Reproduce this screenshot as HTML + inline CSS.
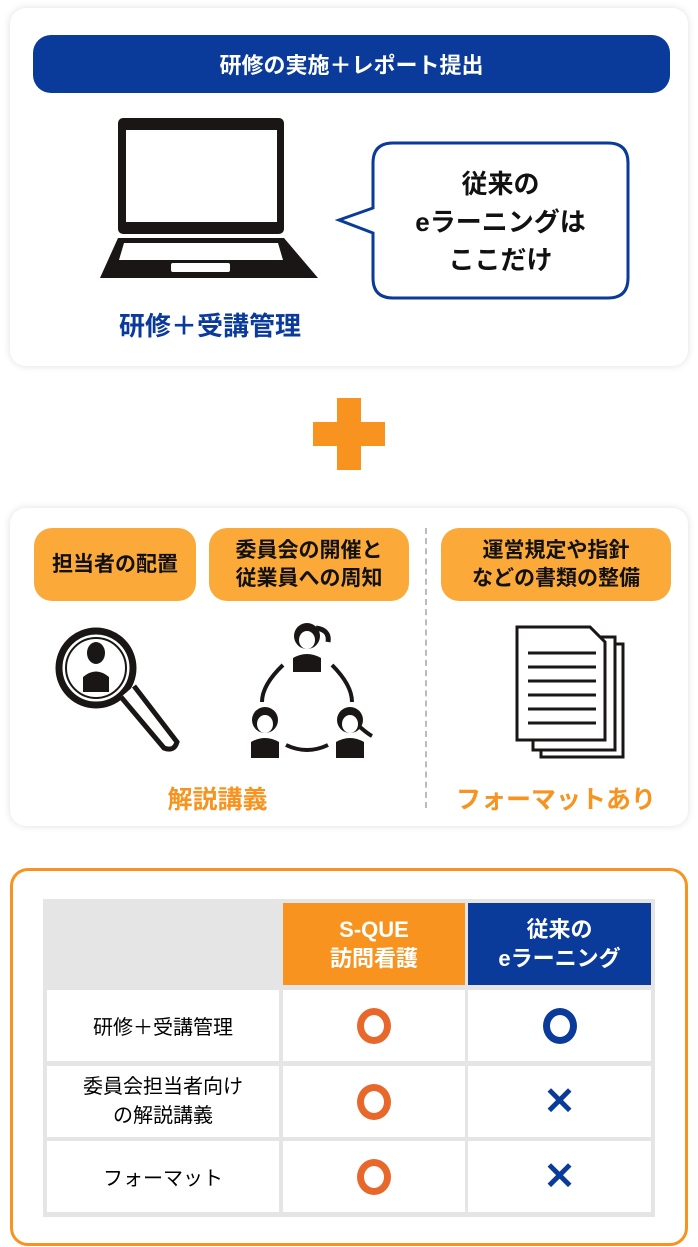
<!DOCTYPE html>
<html><head><meta charset="utf-8"><style>
*{margin:0;padding:0;box-sizing:border-box}
body{width:698px;height:1247px;background:#fff;position:relative;font-family:"Liberation Sans","Noto Sans CJK JP",sans-serif;overflow:hidden}
.a{position:absolute}
.card{background:#fff;border-radius:16px;box-shadow:0 0 8px rgba(0,0,0,.13)}
.pill{background:#fbaa3a;border-radius:18px;display:flex;align-items:center;justify-content:center;text-align:center;font-weight:bold;font-size:21px;line-height:28px;color:#111}
.c{display:flex;align-items:center;justify-content:center;text-align:center;background:#fff}
.o{width:34px;height:36px;border:7px solid #e8672a;border-radius:50%}
.ob{border-color:#0a3a9a}
.x{color:#0a3a9a;font-size:38px;font-weight:bold}
</style></head><body>
<div class="a card" style="left:10px;top:8px;width:678px;height:358px"></div>
<div class="a c" style="left:33px;top:35px;width:637px;height:58px;background:#0a3a9a;border-radius:18px;color:#fff;font-weight:bold;font-size:22px">研修の実施＋レポート提出</div>
<svg class="a" style="left:0;top:0" width="698" height="1247">
<rect x="118" y="118" width="166" height="116" rx="5" fill="#1a1616"/>
<rect x="126" y="130" width="151" height="92" fill="#fff"/>
<path d="M118 238 H284 L318 278 H100 Z" fill="#1a1616"/>
<path d="M124 243 H278 L283 260 H119 Z" fill="#fff"/>
<rect x="171" y="263" width="59" height="9" rx="2" fill="#fff"/>
<path d="M393 143 H608 Q628 143 628 163 V278 Q628 298 608 298 H393 Q373 298 373 278 V233 L339 220 L373 208 V163 Q373 143 393 143 Z" fill="#fff" stroke="#0a3a9a" stroke-width="3"/>
<rect x="313" y="422" width="72" height="24" fill="#f7931e"/>
<rect x="337" y="398" width="24" height="72" fill="#f7931e"/>
</svg>
<div class="a" style="left:373px;top:165px;width:255px;text-align:center;font-weight:bold;font-size:26px;line-height:38px;color:#111">従来の<br>eラーニングは<br>ここだけ</div>
<div class="a" style="left:90px;top:306px;width:240px;text-align:center;font-weight:bold;font-size:26px;color:#0a3a9a">研修＋受講管理</div>

<div class="a card" style="left:10px;top:508px;width:678px;height:318px"></div>
<div class="a pill" style="left:34px;top:528px;width:162px;height:73px">担当者の配置</div>
<div class="a pill" style="left:209px;top:528px;width:200px;height:73px">委員会の開催と<br>従業員への周知</div>
<div class="a pill" style="left:441px;top:528px;width:230px;height:73px">運営規定や指針<br>などの書類の整備</div>
<div class="a" style="left:425px;top:528px;height:280px;border-left:2px dashed #bbb"></div>
<svg class="a" style="left:0;top:0" width="698" height="1247">
<g fill="#1a1616" stroke="#1a1616">
<circle cx="96" cy="668" r="37" fill="none" stroke-width="7"/>
<circle cx="96" cy="668" r="30" fill="none" stroke-width="2"/>
<ellipse cx="96" cy="653" rx="9" ry="11" stroke="none"/>
<path d="M83 692 V677 Q96 666 109 677 V692 Z" stroke="none"/>
<path d="M121 697 L164 748 Q174 752 177 742 L134 686" fill="#fff" stroke-width="5"/>
<circle cx="307" cy="636" r="13" stroke="none"/>
<path d="M316 628 Q330 630 328 642" fill="none" stroke-width="5"/>
<ellipse cx="307" cy="640" rx="8" ry="9" fill="#fff" stroke="none"/>
<path d="M293 672 V658 Q307 650 321 658 V672 Z" stroke="none"/>
<circle cx="265" cy="720" r="13" stroke="none"/>
<ellipse cx="265" cy="724" rx="8" ry="9" fill="#fff" stroke="none"/>
<path d="M251 758 V742 Q265 734 279 742 V758 Z" stroke="none"/>
<circle cx="350" cy="720" r="13" stroke="none"/>
<path d="M360 727 Q368 734 372 736" fill="none" stroke-width="4"/>
<ellipse cx="350" cy="724" rx="8" ry="9" fill="#fff" stroke="none"/>
<path d="M336 758 V742 Q350 734 364 742 V758 Z" stroke="none"/>
<path d="M283 665 Q262 685 262 702 M332 665 Q352 685 352 702 M286 745 Q307 755 328 745" fill="none" stroke-width="4"/>
</g>
<g fill="#fff" stroke="#1a1616" stroke-width="3">
<rect x="541" y="644" width="82" height="113"/>
<rect x="533" y="637" width="82" height="113"/>
<path d="M517 627 H590 L605 642 V740 H517 Z"/>
</g>
<g stroke="#1a1616" stroke-width="3"><line x1="528" y1="653" x2="596" y2="653"/><line x1="528" y1="667" x2="596" y2="667"/><line x1="528" y1="681" x2="596" y2="681"/><line x1="528" y1="695" x2="596" y2="695"/><line x1="528" y1="709" x2="596" y2="709"/><line x1="528" y1="723" x2="596" y2="723"/></g>
</svg>
<div class="a" style="left:130px;top:780px;width:175px;text-align:center;font-weight:bold;font-size:25px;color:#f7931e">解説講義</div>
<div class="a" style="left:441px;top:780px;width:230px;text-align:center;font-weight:bold;font-size:25px;color:#f7931e">フォーマットあり</div>

<div class="a" style="left:10px;top:868px;width:678px;height:378px;border:3px solid #f7931e;border-radius:18px"></div>
<div class="a" style="left:43px;top:899px;width:612px;height:318px;background:#e5e5e5"></div>
<div class="a c" style="left:283px;top:903px;width:182px;height:82px;background:#f7931e;color:#fff;font-weight:bold;font-size:22px;line-height:29px">S-QUE<br>訪問看護</div>
<div class="a c" style="left:468px;top:903px;width:183px;height:82px;background:#0a3a9a;color:#fff;font-weight:bold;font-size:22px;line-height:29px">従来の<br>eラーニング</div>
<div class="a c" style="left:47px;top:990px;width:232px;height:71px;font-size:20px">研修＋受講管理</div>
<div class="a c" style="left:283px;top:990px;width:182px;height:71px"><div class="o"></div></div>
<div class="a c" style="left:468px;top:990px;width:183px;height:71px"><div class="o ob"></div></div>
<div class="a c" style="left:47px;top:1066px;width:232px;height:71px;font-size:20px;line-height:29px">委員会担当者向け<br>の解説講義</div>
<div class="a c" style="left:283px;top:1066px;width:182px;height:71px"><div class="o"></div></div>
<div class="a c x" style="left:468px;top:1066px;width:183px;height:71px">✕</div>
<div class="a c" style="left:47px;top:1141px;width:232px;height:71px;font-size:20px">フォーマット</div>
<div class="a c" style="left:283px;top:1141px;width:182px;height:71px"><div class="o"></div></div>
<div class="a c x" style="left:468px;top:1141px;width:183px;height:71px">✕</div>
</body></html>
